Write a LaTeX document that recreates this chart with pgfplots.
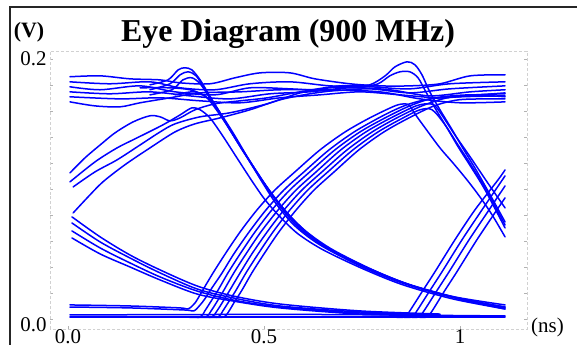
\documentclass[border=0pt]{standalone}
\usepackage{pgfplots}
\pgfplotsset{compat=1.18}
\usepackage{fontspec}
\setmainfont{Liberation Serif}

\pgfplotsset{eye/.style={color=blue, line width=1.5bp, smooth, tension=0.5, mark=none, line join=round, line cap=round}}

\begin{document}
\begin{tikzpicture}
\useasboundingbox (0,0) rectangle (577bp,345bp);
\clip (0,0) rectangle (577bp,345bp);
% frame edges
\draw[line width=1.8bp, black!85] (10bp,-2bp) -- (10bp,338bp) -- (580bp,338bp);

\begin{axis}[
  at={(50bp,16bp)}, anchor=south west,
  scale only axis, width=477bp, height=278bp,
  xmin=-0.046, xmax=1.171, ymin=-0.0077, ymax=0.206,
  axis line style={draw=black!18, densely dashed, line width=0.8bp},
  tick style={black!30, line width=0.6bp},
  major tick length=3bp, minor tick length=3bp,
  tick align=inside,
  xtick pos=left, ytick pos=both,
  xtick={0,0.5,1}, xticklabels={0.0,0.5,1},
  ytick={0.2}, yticklabels={0.2},
  extra y ticks={0}, extra y tick labels={0.0},
  extra y tick style={yticklabel style={yshift=-6bp}},
  minor ytick={0.02,0.04,0.06,0.08,0.1,0.12,0.14,0.16,0.18},
  ticklabel style={font=\fontsize{21}{24}\selectfont, text=black},
  xticklabel style={yshift=3bp},
]
% high level
\addplot[eye] coordinates {(0.005,0.1862)(0.082,0.1869)(0.158,0.1846)(0.235,0.1838)(0.286,0.1815)(0.362,0.1808)(0.426,0.1854)(0.490,0.1892)(0.566,0.1892)(0.630,0.1846)(0.719,0.1808)(0.796,0.1792)(0.872,0.1792)(0.949,0.1808)(1.026,0.1869)(1.115,0.1877)};
\addplot[eye] coordinates {(0.005,0.1823)(0.107,0.1808)(0.209,0.1823)(0.286,0.1777)(0.375,0.1762)(0.464,0.1808)(0.566,0.1823)(0.668,0.1792)(0.770,0.1785)(0.872,0.1769)(0.974,0.1808)(1.115,0.1823)};
\addplot[eye] coordinates {(0.005,0.1785)(0.082,0.1762)(0.184,0.1792)(0.273,0.1746)(0.375,0.1723)(0.464,0.1777)(0.566,0.1769)(0.668,0.1754)(0.770,0.1769)(0.872,0.1738)(0.974,0.1769)(1.115,0.1792)};
\addplot[eye] coordinates {(0.005,0.1746)(0.107,0.1731)(0.209,0.1746)(0.311,0.1715)(0.413,0.1692)(0.515,0.1731)(0.617,0.1746)(0.719,0.1777)(0.821,0.1762)(0.923,0.1715)(1.026,0.1746)(1.115,0.1762)};
\addplot[eye] coordinates {(0.005,0.1708)(0.133,0.1692)(0.235,0.1700)(0.337,0.1677)(0.439,0.1662)(0.541,0.1700)(0.643,0.1723)(0.745,0.1746)(0.847,0.1723)(0.949,0.1700)(1.051,0.1723)(1.115,0.1738)};
\addplot[eye] coordinates {(0.005,0.1669)(0.069,0.1638)(0.133,0.1631)(0.184,0.1662)(0.260,0.1700)(0.337,0.1738)(0.439,0.1746)(0.541,0.1762)(0.668,0.1762)(0.796,0.1746)(0.898,0.1692)(1.000,0.1662)(1.115,0.1669)};
% first falling edges
\addplot[eye] coordinates {(0.209,0.1800)(0.255,0.1838)(0.281,0.1915)(0.298,0.1931)(0.316,0.1915)(0.337,0.1838)(0.357,0.1738)(0.388,0.1585)(0.426,0.1392)(0.464,0.1208)(0.495,0.1054)(0.533,0.0877)(0.579,0.0715)(0.643,0.0569)(0.745,0.0408)(0.847,0.0285)(0.974,0.0177)(1.115,0.0108)};
\addplot[eye] coordinates {(0.209,0.1762)(0.260,0.1808)(0.286,0.1877)(0.306,0.1900)(0.327,0.1869)(0.349,0.1762)(0.370,0.1662)(0.401,0.1515)(0.439,0.1331)(0.477,0.1146)(0.508,0.1008)(0.546,0.0846)(0.592,0.0692)(0.656,0.0554)(0.758,0.0392)(0.860,0.0269)(0.987,0.0162)(1.115,0.0092)};
\addplot[eye] coordinates {(0.209,0.1723)(0.265,0.1762)(0.293,0.1838)(0.316,0.1854)(0.337,0.1808)(0.362,0.1700)(0.383,0.1608)(0.413,0.1454)(0.452,0.1269)(0.490,0.1092)(0.520,0.0962)(0.559,0.0815)(0.605,0.0677)(0.668,0.0538)(0.770,0.0385)(0.872,0.0262)(1.000,0.0154)(1.115,0.0085)};
\addplot[eye] coordinates {(0.184,0.1777)(0.260,0.1777)(0.311,0.1762)(0.349,0.1715)(0.375,0.1623)(0.408,0.1477)(0.446,0.1292)(0.485,0.1115)(0.515,0.0977)(0.554,0.0831)(0.599,0.0685)(0.663,0.0546)(0.765,0.0392)(0.867,0.0269)(0.995,0.0162)(1.115,0.0092)};
\addplot[eye] coordinates {(0.005,0.1054)(0.069,0.1208)(0.125,0.1315)(0.176,0.1392)(0.242,0.1492)(0.286,0.1569)(0.316,0.1623)(0.337,0.1608)(0.362,0.1546)(0.393,0.1415)(0.431,0.1238)(0.469,0.1062)(0.503,0.0915)(0.541,0.0785)(0.587,0.0654)(0.651,0.0531)(0.753,0.0385)(0.855,0.0262)(0.982,0.0154)(1.115,0.0077)};
\addplot[eye] coordinates {(0.273,0.1723)(0.324,0.1746)(0.362,0.1685)(0.388,0.1585)(0.421,0.1431)(0.459,0.1238)(0.495,0.1069)(0.528,0.0931)(0.566,0.0792)(0.612,0.0662)(0.676,0.0531)(0.778,0.0377)(0.880,0.0254)(1.008,0.0146)(1.115,0.0077)};
% slow rises from the middle level
\addplot[eye] coordinates {(0.005,0.1123)(0.043,0.1238)(0.082,0.1338)(0.120,0.1431)(0.166,0.1515)(0.209,0.1562)(0.235,0.1554)(0.260,0.1523)(0.286,0.1546)(0.324,0.1608)(0.375,0.1654)(0.439,0.1677)(0.508,0.1700)(0.592,0.1746)(0.694,0.1792)(0.796,0.1792)};
\addplot[eye] coordinates {(0.013,0.1015)(0.069,0.1131)(0.125,0.1223)(0.184,0.1338)(0.235,0.1438)(0.273,0.1500)(0.337,0.1554)(0.413,0.1585)(0.508,0.1654)(0.592,0.1738)(0.668,0.1777)(0.745,0.1777)};
\addplot[eye] coordinates {(0.013,0.0815)(0.051,0.0938)(0.089,0.1054)(0.145,0.1185)(0.209,0.1315)(0.273,0.1438)(0.324,0.1500)(0.388,0.1546)(0.464,0.1608)(0.541,0.1685)(0.617,0.1731)(0.694,0.1762)};
% decaying tails
\addplot[eye] coordinates {(0.010,0.0785)(0.082,0.0631)(0.158,0.0492)(0.235,0.0377)(0.329,0.0254)(0.421,0.0177)(0.541,0.0115)(0.745,0.0062)(0.949,0.0038)};
\addplot[eye] coordinates {(0.010,0.0738)(0.082,0.0592)(0.158,0.0469)(0.235,0.0354)(0.329,0.0231)(0.421,0.0162)(0.541,0.0100)(0.745,0.0054)(0.949,0.0031)};
\addplot[eye] coordinates {(0.010,0.0677)(0.082,0.0546)(0.158,0.0431)(0.235,0.0323)(0.329,0.0215)(0.421,0.0146)(0.541,0.0092)(0.745,0.0046)(0.949,0.0031)};
\addplot[eye] coordinates {(0.010,0.0623)(0.082,0.0500)(0.158,0.0400)(0.235,0.0300)(0.329,0.0192)(0.421,0.0138)(0.541,0.0085)(0.745,0.0038)(0.949,0.0023)};
% low level
\addplot[eye] coordinates {(0.005,0.0015)(0.600,0.0015)(1.115,0.0015)};
\addplot[eye] coordinates {(0.005,0.0031)(0.600,0.0035)(1.115,0.0023)};
% main rising edges
\addplot[eye] coordinates {(0.005,0.0108)(0.158,0.0100)(0.286,0.0085)(0.306,0.0077)(0.324,0.0123)(0.344,0.0223)(0.370,0.0354)(0.401,0.0500)(0.439,0.0669)(0.482,0.0838)(0.528,0.0992)(0.579,0.1131)(0.643,0.1300)(0.707,0.1438)(0.770,0.1546)(0.834,0.1638)(0.860,0.1654)(0.872,0.1638)(0.885,0.1577)(0.911,0.1469)(0.949,0.1315)(0.982,0.1200)(1.018,0.1069)(1.051,0.0938)(1.082,0.0800)(1.115,0.0631)};
\addplot[eye] coordinates {(0.005,0.0092)(0.158,0.0085)(0.298,0.0069)(0.321,0.0062)(0.337,0.0108)(0.349,0.0154)(0.367,0.0238)(0.393,0.0354)(0.423,0.0500)(0.462,0.0669)(0.505,0.0838)(0.551,0.0992)(0.602,0.1131)(0.666,0.1300)(0.730,0.1438)(0.793,0.1546)(0.834,0.1608)(0.872,0.1654)(0.923,0.1692)(1.000,0.1708)(1.115,0.1715)};
\addplot[eye] coordinates {(0.300,0.0015)(0.337,0.0015)(0.349,0.0062)(0.362,0.0123)(0.383,0.0223)(0.408,0.0354)(0.439,0.0500)(0.477,0.0669)(0.520,0.0838)(0.566,0.0992)(0.617,0.1131)(0.681,0.1300)(0.745,0.1438)(0.809,0.1546)(0.872,0.1638)(0.936,0.1700)(1.026,0.1723)(1.115,0.1708)};
\addplot[eye] coordinates {(0.320,0.0015)(0.352,0.0015)(0.365,0.0062)(0.378,0.0123)(0.398,0.0223)(0.423,0.0354)(0.454,0.0500)(0.492,0.0669)(0.536,0.0838)(0.582,0.0992)(0.633,0.1131)(0.696,0.1300)(0.760,0.1438)(0.824,0.1546)(0.888,0.1638)(0.923,0.1654)(0.941,0.1623)(0.987,0.1415)(1.026,0.1246)(1.069,0.1054)(1.115,0.0854)};
\addplot[eye] coordinates {(0.340,0.0015)(0.367,0.0015)(0.380,0.0062)(0.393,0.0123)(0.413,0.0223)(0.439,0.0354)(0.469,0.0500)(0.508,0.0669)(0.551,0.0838)(0.597,0.0992)(0.648,0.1131)(0.712,0.1300)(0.776,0.1438)(0.839,0.1546)(0.903,0.1638)(0.967,0.1700)(1.038,0.1723)(1.115,0.1731)};
\addplot[eye] coordinates {(0.350,0.0015)(0.383,0.0015)(0.395,0.0062)(0.408,0.0123)(0.429,0.0223)(0.454,0.0354)(0.485,0.0500)(0.523,0.0669)(0.566,0.0838)(0.612,0.0992)(0.663,0.1131)(0.727,0.1300)(0.791,0.1438)(0.855,0.1546)(0.898,0.1608)(0.929,0.1608)(0.962,0.1492)(0.995,0.1338)(1.028,0.1185)(1.064,0.1008)(1.115,0.0723)};
\addplot[eye] coordinates {(0.370,0.0015)(0.398,0.0015)(0.411,0.0062)(0.423,0.0123)(0.444,0.0223)(0.469,0.0354)(0.500,0.0500)(0.538,0.0669)(0.582,0.0838)(0.628,0.0992)(0.679,0.1131)(0.742,0.1300)(0.806,0.1438)(0.870,0.1546)(0.934,0.1638)(0.997,0.1685)(1.077,0.1692)(1.115,0.1692)};
% second overshoot and fall
\addplot[eye] coordinates {(0.719,0.1792)(0.770,0.1800)(0.809,0.1869)(0.834,0.1938)(0.865,0.1977)(0.885,0.1954)(0.903,0.1877)(0.923,0.1746)(0.949,0.1608)(0.980,0.1454)(1.010,0.1300)(1.041,0.1146)(1.077,0.0954)(1.115,0.0746)};
\addplot[eye] coordinates {(0.745,0.1777)(0.791,0.1808)(0.821,0.1869)(0.847,0.1900)(0.872,0.1900)(0.893,0.1854)(0.913,0.1746)(0.936,0.1623)(0.967,0.1469)(0.997,0.1315)(1.028,0.1169)(1.064,0.0992)(1.115,0.0700)};
% second rising edges
\addplot[eye] coordinates {(0.830,0.0015)(0.860,0.0015)(0.872,0.0062)(0.903,0.0208)(0.936,0.0362)(0.987,0.0608)(1.038,0.0838)(1.097,0.1069)(1.115,0.1146)};
\addplot[eye] coordinates {(0.850,0.0015)(0.878,0.0015)(0.890,0.0062)(0.921,0.0208)(0.954,0.0362)(1.005,0.0608)(1.056,0.0838)(1.115,0.1100)};
\addplot[eye] coordinates {(0.870,0.0015)(0.895,0.0015)(0.908,0.0062)(0.939,0.0208)(0.972,0.0362)(1.023,0.0608)(1.074,0.0838)(1.115,0.1023)};
\addplot[eye] coordinates {(0.890,0.0015)(0.916,0.0015)(0.929,0.0062)(0.959,0.0208)(0.992,0.0362)(1.043,0.0608)(1.094,0.0838)(1.115,0.0931)};
\end{axis}

\node[anchor=base, font=\fontsize{32}{36}\selectfont\bfseries] at (288bp,303bp) {Eye Diagram (900 MHz)};
\node[anchor=base, font=\fontsize{22}{26}\selectfont\bfseries] at (29bp,307bp) {(V)};
\node[anchor=base west, inner sep=0pt, font=\fontsize{21}{24}\selectfont] at (531bp,13bp) {(ns)};
\end{tikzpicture}
\end{document}
